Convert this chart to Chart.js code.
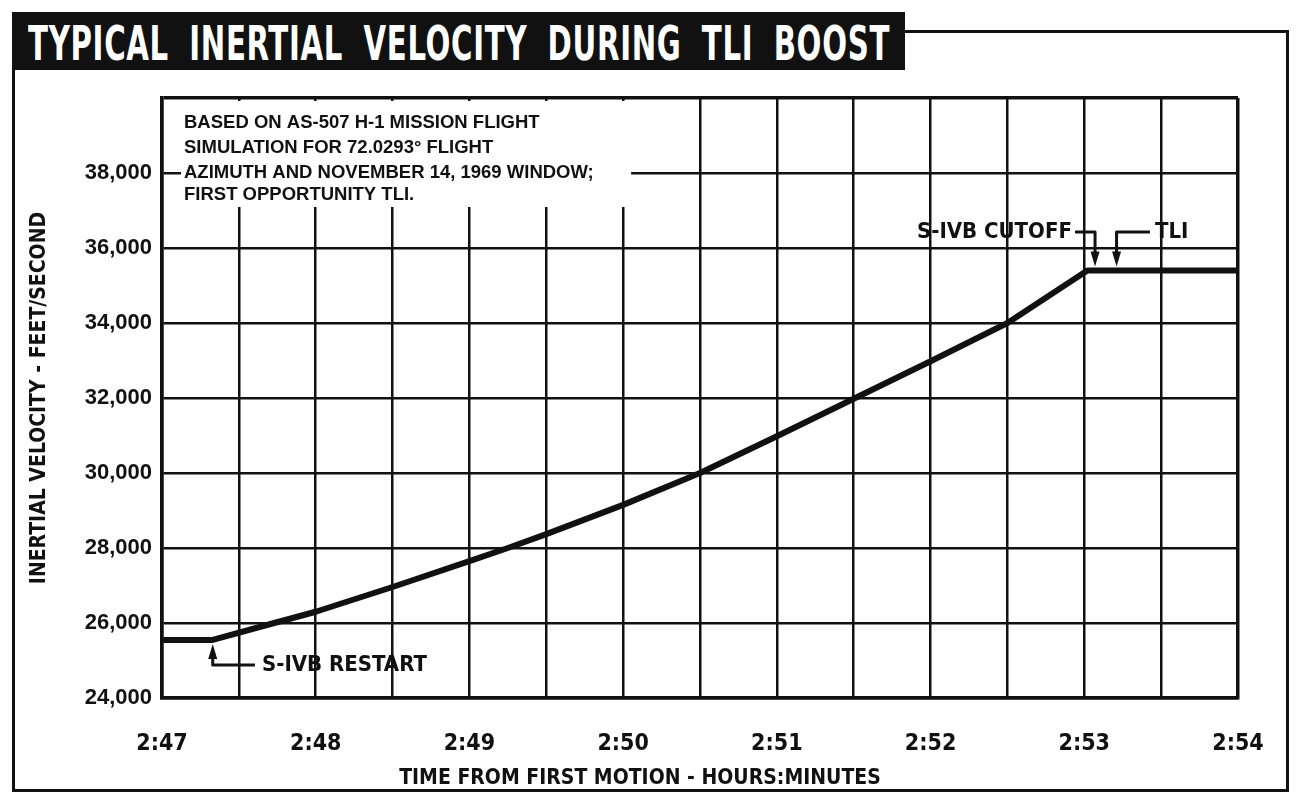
<!DOCTYPE html>
<html>
<head>
<meta charset="utf-8">
<script src="https://cdn.jsdelivr.net/npm/chart.js@4.4.1/dist/chart.umd.min.js"></script>
<style>
  html, body { margin: 0; padding: 0; background: #fff; }
  #wrap { position: relative; width: 1305px; height: 805px; overflow: hidden; }
  #frame { position: absolute; left: 12px; top: 30px; width: 1277px; height: 762px; border: 3px solid #111; box-sizing: border-box; }
  #banner { position: absolute; left: 12px; top: 12px; width: 893px; height: 58px; background: #111; }
  #banner span { position: absolute; left: 16px; top: 3px; color: #fff; white-space: nowrap; transform-origin: 0 0;
    font: bold 48px "Liberation Sans Narrow", "DejaVu Sans Condensed", sans-serif; word-spacing: 14px; letter-spacing: 1px; }
  canvas { position: absolute; left: 0; top: 0; }
</style>
</head>
<body>
<div id="wrap">
  <div id="frame"></div>
  <div id="banner"><span id="bannerText">TYPICAL INERTIAL VELOCITY DURING TLI BOOST</span></div>
  <canvas id="chart" width="1305" height="805"></canvas>
</div>
<script>
// time in minutes from first motion (2:47 = 167 min), velocity in ft/s
const timeMin = [167.00, 167.33, 167.73, 168.00, 168.50, 169.00, 169.25, 169.50, 170.00, 170.50, 171.00, 171.50, 172.00, 172.50, 173.02, 174.00];
const velocity = [25550, 25550, 26000, 26300, 26960, 27650, 28000, 28370, 29150, 30000, 30980, 31980, 32980, 34000, 35400, 35400];
const minuteLabels = ["2:47", "2:48", "2:49", "2:50", "2:51", "2:52", "2:53", "2:54"];
const noteLines = [
  "BASED ON AS-507 H-1 MISSION FLIGHT",
  "SIMULATION FOR 72.0293\u00B0 FLIGHT",
  "AZIMUTH AND NOVEMBER 14, 1969 WINDOW;",
  "FIRST OPPORTUNITY TLI."
];
const restartTime = 167.33, restartVel = 25550;
const cutoffTime = 173.07, tliTime = 173.21, tliVel = 35400;

const NARROW = '"Liberation Sans Narrow", "DejaVu Sans Condensed", sans-serif';
const INK = "#111";

// squeeze the banner title to the width it has in the original
const bt = document.getElementById("bannerText");
bt.style.transform = "scaleX(" + (862 / bt.offsetWidth) + ")";

function arrowHead(ctx, x, tipY, dir) {
  // dir = -1 points up, 1 points down
  ctx.beginPath();
  ctx.moveTo(x, tipY);
  ctx.lineTo(x - 4.5, tipY - dir * 15);
  ctx.lineTo(x + 4.5, tipY - dir * 15);
  ctx.closePath();
  ctx.fill();
}

const notes = {
  id: "notes",
  afterDraw(chart) {
    const { ctx, chartArea: a, scales: { x, y } } = chart;
    ctx.save();
    ctx.fillStyle = INK;
    ctx.strokeStyle = INK;

    // note box in upper left corner
    const y38 = y.getPixelForValue(38000);
    ctx.fillStyle = "#fff";
    ctx.fillRect(a.left + 19, a.top + 3, x.getPixelForValue(170) + 8 - (a.left + 19), 106);
    ctx.fillStyle = INK;
    ctx.font = 'bold 18.5px "Liberation Sans", Arial, sans-serif';
    ctx.textAlign = "left";
    ctx.textBaseline = "middle";
    [-50, -25, 0, 22].forEach((dy, i) => ctx.fillText(noteLines[i], a.left + 22, y38 + dy));

    ctx.lineWidth = 3;
    ctx.lineJoin = "round";
    ctx.font = "bold 22px " + NARROW;

    // S-IVB restart
    const rx = x.getPixelForValue(restartTime);
    const ry = y.getPixelForValue(restartVel) + 4;
    const ly = y.getPixelForValue(24880);
    const tx = x.getPixelForValue(167.65);
    arrowHead(ctx, rx, ry, -1);
    ctx.beginPath();
    ctx.moveTo(rx, ry + 10);
    ctx.lineTo(rx, ly);
    ctx.lineTo(tx - 7, ly);
    ctx.stroke();
    ctx.fillText("S-IVB RESTART", tx, ly);

    // S-IVB cutoff and TLI
    const hy = y.getPixelForValue(36430);
    const py = y.getPixelForValue(tliVel) - 4;
    const cx = x.getPixelForValue(cutoffTime);
    const cxt = x.getPixelForValue(172.92);
    ctx.textAlign = "right";
    ctx.fillText("S-IVB CUTOFF", cxt, hy);
    ctx.beginPath();
    ctx.moveTo(cxt + 3, hy);
    ctx.lineTo(cx, hy);
    ctx.lineTo(cx, py - 10);
    ctx.stroke();
    arrowHead(ctx, cx, py, 1);

    const tlx = x.getPixelForValue(tliTime);
    const tlt = x.getPixelForValue(173.46);
    ctx.textAlign = "left";
    ctx.fillText("TLI", tlt, hy);
    ctx.beginPath();
    ctx.moveTo(tlt - 5, hy);
    ctx.lineTo(tlx, hy);
    ctx.lineTo(tlx, py - 10);
    ctx.stroke();
    arrowHead(ctx, tlx, py, 1);

    // x axis title, set left of centre as in the original
    ctx.textAlign = "center";
    ctx.font = "bold 21px " + NARROW;
    ctx.fillText("TIME FROM FIRST MOTION - HOURS:MINUTES", a.left + 478, 779);
    ctx.restore();
  }
};

const edgeWidth = (lo, hi) => c => (c.tick && (c.tick.value === lo || c.tick.value === hi)) ? 3.5 : 2.5;

new Chart(document.getElementById("chart"), {
  type: "line",
  data: {
    datasets: [{
      data: timeMin.map((t, i) => ({ x: t, y: velocity[i] })),
      borderColor: INK,
      borderWidth: 6,
      pointRadius: 0,
      tension: 0,
      borderJoinStyle: "round",
      borderCapStyle: "round"
    }]
  },
  options: {
    responsive: false,
    animation: false,
    layout: { padding: { top: 98, right: 67, left: 0, bottom: 0 } },
    plugins: { legend: { display: false }, tooltip: { enabled: false } },
    scales: {
      x: {
        type: "linear",
        min: 167,
        max: 174,
        afterFit: s => { s.height = 107; },
        grid: { color: INK, lineWidth: edgeWidth(167, 174), drawTicks: false },
        border: { color: INK, width: 3.5 },
        ticks: {
          stepSize: 0.5,
          autoSkip: false,
          maxRotation: 0,
          padding: 32,
          color: INK,
          font: { family: NARROW, weight: "bold", size: 23 },
          callback: v => Math.abs(v - Math.round(v)) < 1e-6 ? minuteLabels[Math.round(v) - 167] : ""
        }
      },
      y: {
        min: 24000,
        max: 40000,
        afterFit: s => { s.width = 162; },
        grid: { color: INK, lineWidth: edgeWidth(24000, 40000), drawTicks: false },
        border: { color: INK, width: 3.5 },
        ticks: {
          stepSize: 2000,
          padding: 10,
          color: INK,
          font: { family: '"Liberation Sans", Arial, sans-serif', weight: "bold", size: 22 },
          callback: v => v === 40000 ? "" : v.toLocaleString("en-US")
        },
        title: {
          display: true,
          text: "INERTIAL VELOCITY - FEET/SECOND",
          color: INK,
          font: { family: NARROW, weight: "bold", size: 21 },
          padding: { top: 27, bottom: 0 }
        }
      }
    }
  },
  plugins: [notes]
});
</script>
</body>
</html>
